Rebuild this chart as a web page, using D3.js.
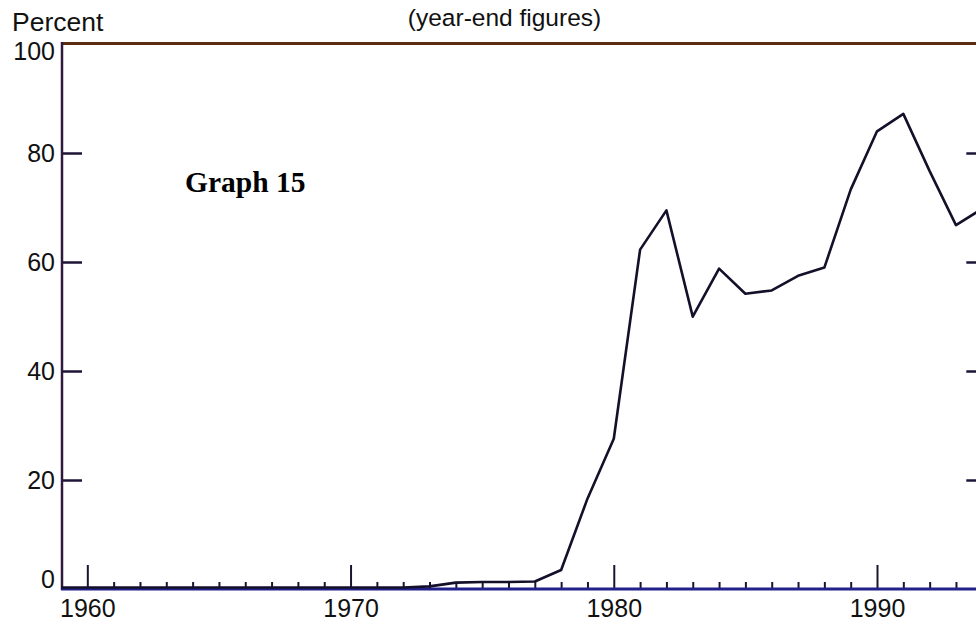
<!DOCTYPE html>
<html>
<head>
<meta charset="utf-8">
<script src="https://cdn.jsdelivr.net/npm/d3@7"></script>
<style>
  html, body { margin: 0; padding: 0; background: #fff; }
  svg { display: block; }
</style>
</head>
<body>
<script>
// ---- data ----
const years = [1959, 1960, 1961, 1962, 1963, 1964, 1965, 1966, 1967, 1968, 1969,
               1970, 1971, 1972, 1973, 1974, 1975, 1976, 1977, 1978, 1979,
               1980, 1981, 1982, 1983, 1984, 1985, 1986, 1987, 1988, 1989,
               1990, 1991, 1992, 1993, 1994];
const percent = [0, 0, 0, 0, 0, 0, 0, 0, 0, 0, 0,
                 0, 0, 0, 0.2, 0.9, 1, 1, 1.1, 3.2, 16.3,
                 27.3, 62, 69.2, 49.7, 58.5, 53.9, 54.5, 57.2, 58.7, 73,
                 83.7, 86.9, 76.4, 66.5, 69.5];
const majorYears = [1960, 1970, 1980, 1990];
const yTicks = [0, 20, 40, 60, 80, 100];
const yInnerTicks = [20, 40, 60, 80];
const yTitle = "Percent";
const subtitle = "(year-end figures)";
const graphLabel = "Graph 15";

(function () {
// ---- layout ----
const W = 976, H = 623;
const mLeft = 61, mRight = 982.3, mTop = 44, mBottom = 589;
const FONT = "'Liberation Sans', Arial, sans-serif";

const svg = d3.select("body").append("svg")
  .attr("width", W).attr("height", H)
  .style("font-family", FONT);

svg.append("rect").attr("width", W).attr("height", H).attr("fill", "#fff");

const x = d3.scaleLinear().domain([1959, 1994]).range([mLeft, mRight]);
const y = d3.scaleLinear().domain([0, 100]).range([mBottom, mTop]);

// frame: top and right lines
svg.append("line").attr("x1", x(1959)).attr("x2", W + 10)
  .attr("y1", y(100) - 0.5).attr("y2", y(100) - 0.5)
  .attr("stroke", "#5a2c12").attr("stroke-width", 3);
svg.append("line").attr("x1", x(1994)).attr("x2", x(1994))
  .attr("y1", y(100)).attr("y2", y(0))
  .attr("stroke", "#2a1a34").attr("stroke-width", 2.5);

// minor x ticks (every year)
const xMinor = svg.append("g").attr("transform", `translate(0,${mBottom})`)
  .call(d3.axisBottom(x).tickValues(years.filter(v => majorYears.indexOf(v) < 0 && v !== 1959 && v !== 1994))
    .tickSize(-7).tickFormat(""));
xMinor.select(".domain").remove();
xMinor.selectAll(".tick line").attr("stroke", "#1a1430").attr("stroke-width", 2);

// major x ticks with labels
const xMajor = svg.append("g").attr("transform", `translate(0,${mBottom})`)
  .call(d3.axisBottom(x).tickValues(majorYears).tickSize(-24).tickPadding(10)
    .tickFormat(d3.format("d")));
xMajor.select(".domain").remove();
xMajor.selectAll(".tick line").attr("stroke", "#1a1430").attr("stroke-width", 2);
xMajor.selectAll(".tick text").attr("font-size", 25).attr("fill", "#111")
  .attr("font-family", FONT);

// left y axis
const yAxisG = svg.append("g").attr("transform", `translate(${mLeft + 1},0)`)
  .call(d3.axisLeft(y).tickValues(yTicks).tickSize(-20).tickPadding(7));
yAxisG.select(".domain").remove();
yAxisG.selectAll(".tick line").attr("stroke", "#1e1438").attr("stroke-width", 2.5)
  .filter(d => d === 0 || d === 100).remove();
yAxisG.selectAll(".tick text").attr("font-size", 25).attr("fill", "#111")
  .attr("font-family", FONT)
  .attr("dy", d => d === 100 ? "0.6em" : (d === 0 ? "-0.05em" : "0.32em"));

// right y ticks (no labels)
const yRight = svg.append("g").attr("transform", `translate(${mRight},0)`)
  .call(d3.axisRight(y).tickValues(yInnerTicks).tickSize(-16).tickFormat(""));
yRight.select(".domain").remove();
yRight.selectAll(".tick line").attr("stroke", "#1e1438").attr("stroke-width", 2.5);

// left axis line and bottom axis line
svg.append("line").attr("x1", mLeft + 1).attr("x2", mLeft + 1)
  .attr("y1", y(100) - 2).attr("y2", mBottom + 1)
  .attr("stroke", "#2e1a3c").attr("stroke-width", 2.5);
svg.append("line").attr("x1", mLeft).attr("x2", W + 10)
  .attr("y1", mBottom).attr("y2", mBottom)
  .attr("stroke", "#22208a").attr("stroke-width", 3);

// data line
const line = d3.line().x((d, i) => x(years[i])).y(d => y(d) - 1.5);
svg.append("path").datum(percent)
  .attr("d", line)
  .attr("fill", "none")
  .attr("stroke", "#14102a")
  .attr("stroke-width", 2.6)
  .attr("stroke-linejoin", "round");

// texts
svg.append("text").attr("x", 12).attr("y", 31)
  .attr("font-size", 26.5).attr("fill", "#111").text(yTitle);
svg.append("text").attr("x", 504.5).attr("y", 26).attr("text-anchor", "middle")
  .attr("font-size", 24.5).attr("fill", "#111").text(subtitle);
svg.append("text").attr("x", 185).attr("y", 192)
  .attr("font-family", "'Liberation Serif', 'Times New Roman', serif")
  .attr("font-weight", "bold").attr("font-size", 29.5).attr("fill", "#000")
  .text(graphLabel);
})();
</script>
</body>
</html>
